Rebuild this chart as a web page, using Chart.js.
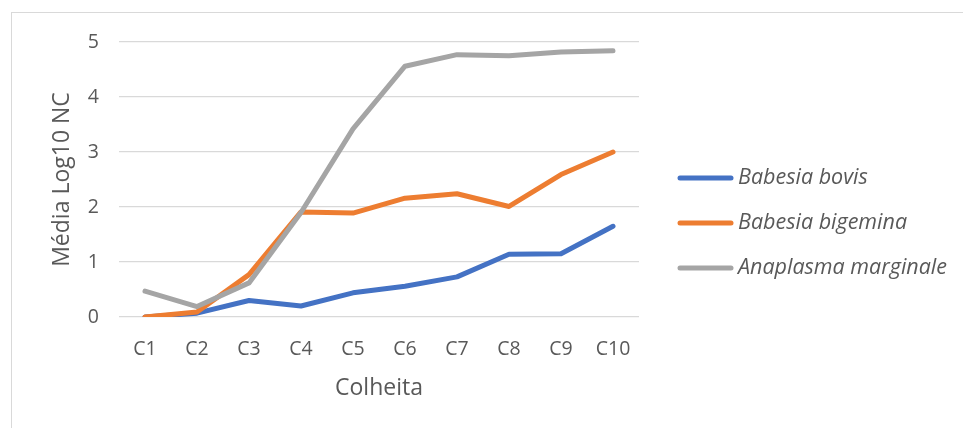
<!DOCTYPE html>
<html>
<head>
<meta charset="utf-8">
<script src="https://cdn.jsdelivr.net/npm/chart.js@4/dist/chart.umd.min.js"></script>
<style>
  html, body { margin: 0; padding: 0; background: #fff; overflow: hidden; }
  #wrap { position: relative; width: 963px; height: 428px; }
  #frame { position: absolute; left: 11px; top: 12px; width: 1000px; height: 1000px;
           border: 1.5px solid #d9d9d9; box-sizing: border-box; }
  canvas { position: absolute; left: 0; top: 0; }
</style>
</head>
<body>
<div id="wrap">
  <div id="frame"></div>
  <canvas id="chart" width="963" height="428"></canvas>
</div>
<script>
// Harvests (colheitas) on the x axis
const categories = ['C1', 'C2', 'C3', 'C4', 'C5', 'C6', 'C7', 'C8', 'C9', 'C10'];

// Mean log10 copy number per harvest
const babesiaBovis     = [0.00, 0.07, 0.30, 0.20, 0.44, 0.56, 0.73, 1.14, 1.15, 1.65];
const babesiaBigemina  = [0.00, 0.09, 0.77, 1.91, 1.89, 2.16, 2.24, 2.01, 2.59, 3.00];
const anaplasmaMarg    = [0.47, 0.19, 0.62, 1.90, 3.42, 4.56, 4.77, 4.75, 4.82, 4.84];

const seriesNames = ['Babesia bovis', 'Babesia bigemina', 'Anaplasma marginale'];
const seriesColors = ['#4472C4', '#ED7D31', '#A5A5A5'];

const TEXT = '#595959';
const FONT = '"Open Sans", "Liberation Sans", sans-serif';

// Legend drawn to the right of the plot: short rounded line + italic name
const sideLegend = {
  id: 'sideLegend',
  afterDraw(chart) {
    const { ctx, chartArea } = chart;
    const x0 = chartArea.right + 41;
    const rowGap = 45;
    const midY = 223;
    const n = chart.data.datasets.length;
    ctx.save();
    chart.data.datasets.forEach((ds, i) => {
      const y = midY + (i - (n - 1) / 2) * rowGap;
      ctx.beginPath();
      ctx.strokeStyle = ds.borderColor;
      ctx.lineWidth = 5;
      ctx.lineCap = 'round';
      ctx.moveTo(x0, y);
      ctx.lineTo(x0 + 51, y);
      ctx.stroke();
      ctx.fillStyle = TEXT;
      ctx.font = 'italic 21.5px ' + FONT;
      ctx.textBaseline = 'middle';
      ctx.textAlign = 'left';
      ctx.fillText(ds.label, x0 + 58, y);
    });
    ctx.restore();
  }
};

new Chart(document.getElementById('chart'), {
  type: 'line',
  data: {
    labels: categories,
    datasets: [
      { label: seriesNames[0], data: babesiaBovis, order: 3 },
      { label: seriesNames[1], data: babesiaBigemina, order: 2 },
      { label: seriesNames[2], data: anaplasmaMarg, order: 1 }
    ].map((d, i) => Object.assign(d, {
      borderColor: seriesColors[i],
      backgroundColor: seriesColors[i],
      borderWidth: 5,
      pointRadius: 0,
      pointHoverRadius: 0,
      tension: 0,
      borderCapStyle: 'round',
      borderJoinStyle: 'round',
      fill: false
    }))
  },
  options: {
    responsive: false,
    animation: false,
    events: [],
    layout: { padding: { left: 45, top: 42, right: 324, bottom: 0 } },
    plugins: {
      legend: { display: false },
      tooltip: { enabled: false }
    },
    scales: {
      x: {
        offset: true,
        grid: { display: false, drawTicks: false },
        border: { display: false },
        ticks: { color: TEXT, font: { family: FONT, size: 19.5 }, padding: 21, maxRotation: 0 },
        title: { display: true, text: 'Colheita', color: TEXT,
                 font: { family: FONT, size: 23 }, padding: { top: 0, bottom: 26 } },
        afterFit(scale) { scale.height = 111; }
      },
      y: {
        min: 0, max: 5,
        ticks: { stepSize: 1, color: TEXT, font: { family: FONT, size: 19.5 }, padding: 20 },
        grid: { color: '#d9d9d9', lineWidth: 1.3, drawTicks: false },
        border: { display: false },
        title: { display: true, text: 'Média Log10 NC', color: TEXT,
                 font: { family: FONT, size: 23 }, padding: { bottom: 6 } },
        afterFit(scale) { scale.width = 74; }
      }
    }
  },
  plugins: [sideLegend]
});
</script>
</body>
</html>
